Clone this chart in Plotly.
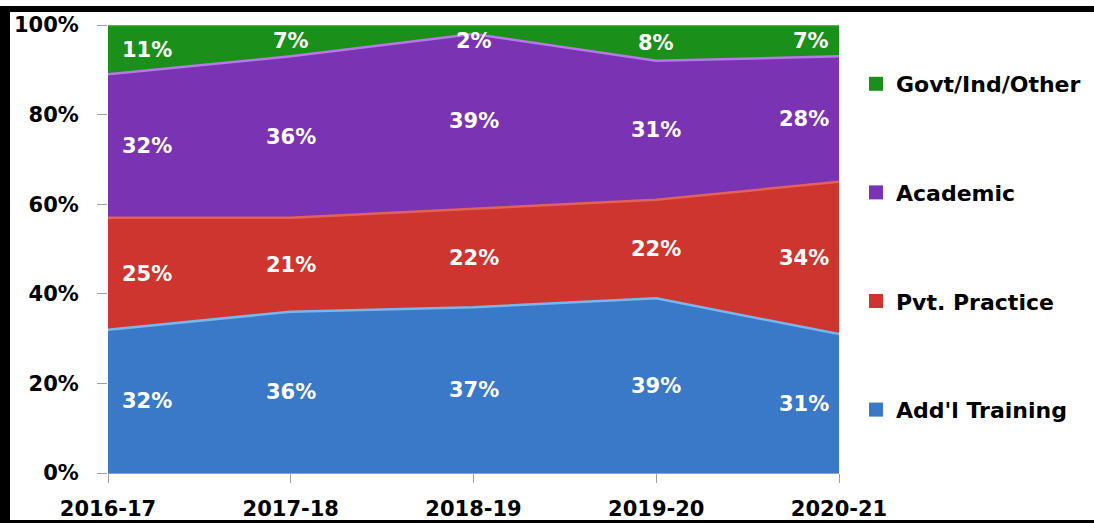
import plotly.graph_objects as go

categories = ["2016-17", "2017-18", "2018-19", "2019-20", "2020-21"]
addl_training = [32, 36, 37, 39, 31]
pvt_practice = [25, 21, 22, 22, 34]
academic = [32, 36, 39, 31, 28]
govt_other = [11, 7, 2, 8, 7]

series_names = ["Add'l Training", "Pvt. Practice", "Academic", "Govt/Ind/Other"]
series_values = [addl_training, pvt_practice, academic, govt_other]
fill_colors = ["#3a78c8", "#cf352f", "#7a33b3", "#1a901a"]
edge_colors = ["#7ab6ee", "#e2625a", "#b67ae6", "#45b845"]

W, H = 1094, 523
ML, MR, MT, MB = 108, 255, 25, 50
PW = W - ML - MR
PH = H - MT - MB

FONT = "DejaVu Sans"

fig = go.Figure()

# stacked areas (100%)
for name, vals, fc, ec in zip(series_names, series_values, fill_colors, edge_colors):
    fig.add_trace(go.Scatter(
        x=categories, y=[v / 100 for v in vals], name=name,
        stackgroup="one", mode="lines",
        line=dict(color=ec, width=2.5),
        fillcolor=fc, showlegend=False, hoverinfo="skip",
    ))

# legend entries with square markers (top legend item = top band)
k = len(series_names)
for i, (name, fc) in enumerate(zip(series_names, fill_colors)):
    fig.add_trace(go.Scatter(
        x=[None], y=[None], name=name, mode="markers",
        marker=dict(symbol="square", size=14, color=fc),
        legendgroup=f"g{i}", legendrank=k - i, showlegend=True,
    ))

# data labels at the centre of each band (kept inside the plot)
n = len(categories)
base = [0] * n
for vals in series_values:
    for j, cat in enumerate(categories):
        mid = min((base[j] + vals[j] / 2) / 100, 0.965)
        if j == 0:
            xa, xs = "left", 12
        elif j == n - 1:
            xa, xs = "right", -8
        else:
            xa, xs = "center", 0
        fig.add_annotation(
            x=cat, y=mid, text=f"{vals[j]}%", showarrow=False,
            xanchor=xa, xshift=xs,
            font=dict(family=FONT, size=21, color="white", weight="bold"),
        )
    base = [b + v for b, v in zip(base, vals)]

# black frame bands (top, left, bottom) in paper coords
def px_to_x(px):
    return (px - ML) / PW

def py_to_y(py):
    return (H - MB - py) / PH

for (x0, y0, x1, y1) in [(0, 6, W, 12), (0, 6, 10, H), (0, 520, W, H)]:
    fig.add_shape(type="rect", xref="paper", yref="paper",
                  x0=px_to_x(x0), x1=px_to_x(x1), y0=py_to_y(y0), y1=py_to_y(y1),
                  fillcolor="black", line=dict(width=0), layer="above")

fig.update_layout(
    width=W, height=H, autosize=False,
    margin=dict(l=ML, r=MR, t=MT, b=MB, autoexpand=False),
    paper_bgcolor="white", plot_bgcolor="white",
    font=dict(family=FONT, size=21, color="black", weight="bold"),
    showlegend=True,
    legend=dict(
        xref="container", yref="container",
        x=856 / W, xanchor="left",
        y=1 - 63 / H, yanchor="top",
        traceorder="grouped", tracegroupgap=77,
        maxheight=440,
        font=dict(family=FONT, size=22, color="black", weight="bold"),
        bgcolor="rgba(0,0,0,0)",
    ),
    xaxis=dict(
        type="category", range=[0, n - 1], showgrid=False, automargin=False,
        showline=True, linecolor="#a0a0a0", linewidth=1,
        ticks="outside", ticklen=9, tickcolor="#a0a0a0",
        tickfont=dict(family=FONT, size=21, color="black", weight="bold"),
        ticklabelstandoff=8,
    ),
    yaxis=dict(
        range=[0, 1], showgrid=False, zeroline=False, automargin=False,
        tickvals=[0, 0.2, 0.4, 0.6, 0.8, 1.0], tickformat=".0%",
        ticks="outside", ticklen=10, tickcolor="#a0a0a0",
        tickfont=dict(family=FONT, size=21, color="black", weight="bold"),
        ticklabelstandoff=14,
    ),
)

fig.write_html(
    "out.html",
    config={"responsive": False, "displayModeBar": False},
    post_script="document.body.style.margin='0';",
)
